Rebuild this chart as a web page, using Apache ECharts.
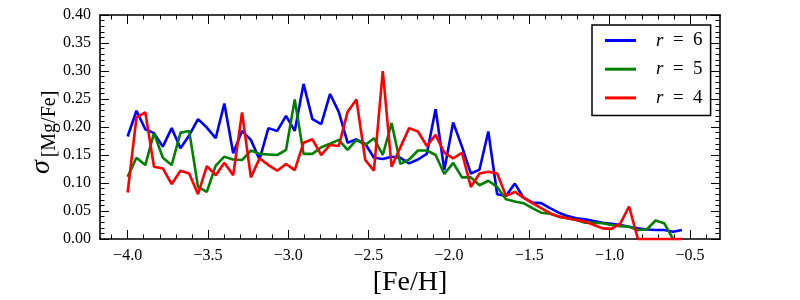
<!DOCTYPE html>
<html>
<head>
<meta charset="utf-8">
<script src="https://cdn.jsdelivr.net/npm/echarts@6/dist/echarts.min.js"></script>
<style>html,body{margin:0;padding:0;background:#fff}#c{width:800px;height:300px}</style>
</head>
<body>
<div id="c"></div>
<script>
const xs = [-4.000,-3.945,-3.890,-3.836,-3.781,-3.726,-3.671,-3.617,-3.562,-3.507,-3.452,-3.398,-3.343,-3.288,-3.233,-3.179,-3.124,-3.069,-3.014,-2.960,-2.905,-2.850,-2.795,-2.740,-2.686,-2.631,-2.576,-2.521,-2.467,-2.412,-2.357,-2.302,-2.248,-2.193,-2.138,-2.083,-2.029,-1.974,-1.919,-1.864,-1.810,-1.755,-1.700,-1.645,-1.590,-1.536,-1.481,-1.426,-1.371,-1.317,-1.262,-1.207,-1.152,-1.098,-1.043,-0.988,-0.933,-0.879,-0.824,-0.769,-0.714,-0.660,-0.605,-0.550];
const sigmaR6 = [0.183,0.229,0.196,0.189,0.165,0.198,0.162,0.185,0.214,0.199,0.180,0.242,
 0.153,0.193,0.177,0.142,0.198,0.193,0.220,0.193,0.277,0.214,0.205,0.259,
 0.227,0.172,0.178,0.170,0.145,0.143,0.147,0.145,0.135,0.142,0.152,0.232,
 0.123,0.208,0.165,0.117,0.124,0.192,0.080,0.077,0.099,0.074,0.065,0.064,
 0.055,0.047,0.041,0.037,0.035,0.032,0.029,0.027,0.025,0.022,0.019,0.017,0.016,0.016,0.013,0.016];
const sigmaR5 = [0.111,0.145,0.132,0.189,0.145,0.132,0.190,0.193,0.093,0.084,0.131,0.147,
 0.142,0.141,0.158,0.152,0.151,0.150,0.159,0.249,0.152,0.152,0.164,0.170,
 0.177,0.159,0.177,0.168,0.180,0.150,0.207,0.134,0.142,0.158,0.158,0.150,
 0.116,0.136,0.110,0.110,0.096,0.104,0.093,0.071,0.067,0.064,0.055,0.047,
 0.045,0.040,0.037,0.034,0.029,0.029,0.028,0.025,0.023,0.022,0.016,0.017,0.033,0.028,0.000];
const sigmaR4 = [0.083,0.217,0.226,0.129,0.126,0.098,0.122,0.117,0.080,0.130,0.114,0.136,
 0.114,0.226,0.110,0.144,0.132,0.122,0.134,0.123,0.172,0.178,0.150,0.168,
 0.166,0.227,0.249,0.141,0.122,0.300,0.129,0.164,0.198,0.192,0.166,0.186,
 0.154,0.144,0.154,0.093,0.117,0.120,0.117,0.077,0.084,0.074,0.064,0.055,
 0.046,0.040,0.037,0.034,0.031,0.025,0.019,0.018,0.028,0.058,0.000,0.000,0.000,0.000,0.000,0.000];
const seriesNames = ['r = 6','r = 5','r = 4'];
const majorXTicks = [-4.0,-3.5,-3.0,-2.5,-2.0,-1.5,-1.0,-0.5];
const minorXTicks = [-4.1,-4.0,-3.9,-3.8,-3.7,-3.6,-3.5,-3.4,-3.3,-3.2,-3.1,-3.0,-2.9,-2.8,-2.7,-2.6,-2.5,-2.4,-2.3,-2.2,-2.1,-2.0,-1.9,-1.8,-1.7,-1.6,-1.5,-1.4,-1.3,-1.2,-1.1,-1.0,-0.9,-0.8,-0.7,-0.6,-0.5,-0.4];

const FONT = '"Liberation Serif", "DejaVu Serif", serif';
const XMIN = -4.172, XMAX = -0.313;
const fmtX = v => (v < 0 ? '\u2212' : '') + Math.abs(v).toFixed(1);
const frame = {show: true, lineStyle: {color: '#000', width: 1.6}};

function xAx(pos, major, withLabel) {
  return {
    type: 'value', position: pos, min: XMIN, max: XMAX,
    axisLine: major ? frame : {show: false},
    splitLine: {show: false},
    axisTick: {show: true, inside: true, length: major ? 9 : 4.5,
      customValues: major ? majorXTicks : minorXTicks,
      lineStyle: {color: '#000', width: 1}},
    axisLabel: withLabel ? {show: true, customValues: majorXTicks, formatter: fmtX,
      fontFamily: FONT, fontSize: 16, color: '#000', margin: 9} : {show: false}
  };
}
function yAx(pos, withLabel) {
  return {
    type: 'value', position: pos, min: 0, max: 0.4, interval: 0.05,
    axisLine: frame, splitLine: {show: false}, minorSplitLine: {show: false},
    axisTick: {show: true, inside: true, length: 9, lineStyle: {color: '#000', width: 1}},
    minorTick: {show: true, splitNumber: 5, length: 4.5, lineStyle: {color: '#000', width: 1}},
    axisLabel: withLabel ? {show: true, formatter: v => v.toFixed(2),
      fontFamily: FONT, fontSize: 16, color: '#000', margin: 9} : {show: false}
  };
}
const colors = ['#0000ff', '#008000', '#ff0000'];
const arrs = [sigmaR6, sigmaR5, sigmaR4];

const chart = echarts.init(document.getElementById('c'), null, {renderer: 'canvas'});
chart.setOption({
  animation: false,
  backgroundColor: '#fff',
  grid: {left: 100, right: 80, top: 15, bottom: 61},
  xAxis: [xAx('bottom', true, true), xAx('bottom', false, false), xAx('top', true, false), xAx('top', false, false)],
  yAxis: [yAx('left', true), yAx('right', false)],
  legend: {
    orient: 'vertical', left: 592, top: 25,
    padding: [6, 8, 8, 13], itemGap: 9.7, itemWidth: 31, itemHeight: 3,
    icon: 'rect',
    borderColor: '#000', borderWidth: 1.5, backgroundColor: '#fff',
    data: seriesNames,
    formatter: n => '{i|r}' + n.slice(1).replace(/ /g, '  '),
    textStyle: {fontFamily: FONT, fontSize: 19, color: '#000', padding: [0, 0, 0, 15],
      rich: {i: {fontFamily: FONT, fontStyle: 'italic', fontSize: 19, color: '#000'}}}
  },
  graphic: [
    {type: 'text', x: 410, y: 283, style: {text: '[Fe/H]', font: '28px "Liberation Serif"', fill: '#000', textAlign: 'center', textVerticalAlign: 'middle'}},
    {type: 'text', x: 42, y: 167, rotation: Math.PI / 2, style: {text: '\u03c3', font: 'italic 28px "Liberation Serif"', fill: '#000', textAlign: 'center', textVerticalAlign: 'middle'}},
    {type: 'text', x: 50, y: 124, rotation: Math.PI / 2, style: {text: '[Mg/Fe]', font: '20px "Liberation Serif"', fill: '#000', textAlign: 'center', textVerticalAlign: 'middle'}}
  ],
  series: arrs.map((a, k) => ({
    name: seriesNames[k], type: 'line', xAxisIndex: 0, yAxisIndex: 0,
    symbol: 'none', showSymbol: false, clip: false,
    lineStyle: {color: colors[k], width: 2.6}, itemStyle: {color: colors[k]},
    data: a.map((v, i) => [xs[i], v])
  }))
});
</script>
</body>
</html>
